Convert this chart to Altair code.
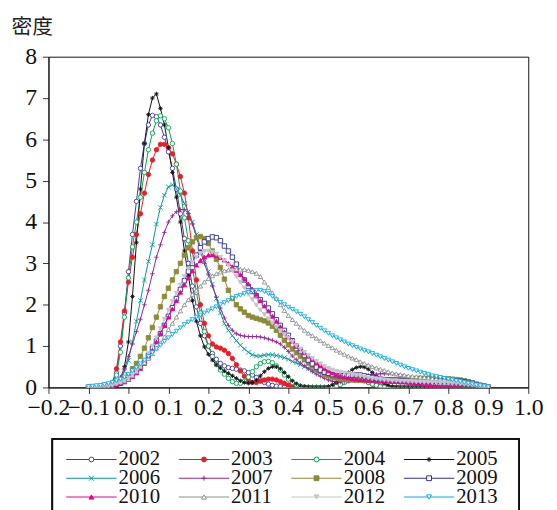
import altair as alt
import pandas as pd

# x grid of every curve: -0.10 .. 0.90, step 0.01 (101 points)
X_START = -0.10
X_STEP = 0.01

years = ["2002", "2003", "2004", "2005", "2006", "2007",
         "2008", "2009", "2010", "2011", "2012", "2013"]

d2002 = [0, 0, 0, 0, 0, 0.02, 0.1, 0.35, 1.0, 1.8,
         2.8, 3.7, 4.5, 5.3, 5.9, 6.35, 6.58, 6.55, 6.35, 6.05,
         5.7, 5.3, 4.8, 4.2, 3.6, 3.0, 2.45, 1.95, 1.55, 1.25,
         1.0, 0.82, 0.68, 0.58, 0.52, 0.48, 0.46, 0.44, 0.42, 0.4,
         0.36, 0.3, 0.24, 0.18, 0.12, 0.08, 0.05, 0.03, 0.02, 0.01,
         0, 0, 0, 0, 0, 0, 0, 0, 0, 0,
         0, 0.03, 0.08, 0.14, 0.2, 0.25, 0.28, 0.29, 0.28, 0.25,
         0.2, 0.14, 0.08, 0.04, 0.02, 0.01, 0, 0, 0, 0,
         0, 0, 0, 0, 0, 0, 0, 0, 0, 0,
         0, 0, 0, 0, 0, 0, 0, 0, 0, 0,
         0]
d2003 = [0, 0, 0, 0, 0, 0.03, 0.12, 0.45, 1.1, 1.85,
         2.55, 3.15, 3.7, 4.2, 4.7, 5.15, 5.5, 5.75, 5.88, 5.88,
         5.8, 5.65, 5.4, 5.1, 4.7, 4.1, 3.3, 2.6, 2.0, 1.55,
         1.25, 1.05, 0.98, 0.95, 0.9, 0.82, 0.7, 0.55, 0.4, 0.27,
         0.17, 0.12, 0.12, 0.15, 0.18, 0.2, 0.2, 0.18, 0.14, 0.1,
         0.06, 0.03, 0.01, 0, 0, 0, 0, 0, 0, 0,
         0, 0.02, 0.05, 0.09, 0.13, 0.17, 0.2, 0.21, 0.2, 0.17,
         0.13, 0.08, 0.04, 0.02, 0, 0, 0, 0, 0, 0,
         0, 0, 0, 0, 0, 0, 0, 0, 0, 0,
         0, 0, 0, 0, 0, 0, 0, 0, 0, 0,
         0]
d2004 = [0, 0, 0, 0, 0, 0.02, 0.08, 0.3, 0.85, 1.7,
         2.65, 3.4, 4.0, 4.6, 5.2, 5.75, 6.15, 6.45, 6.57, 6.5,
         6.28, 5.9, 5.4, 4.75, 4.1, 3.55, 2.9, 2.3, 1.8, 1.35,
         1.0, 0.75, 0.55, 0.42, 0.32, 0.22, 0.14, 0.1, 0.1, 0.15,
         0.25, 0.38, 0.5, 0.58, 0.62, 0.63, 0.6, 0.52, 0.42, 0.3,
         0.2, 0.12, 0.06, 0.03, 0.01, 0, 0, 0, 0, 0,
         0, 0, 0.03, 0.07, 0.12, 0.16, 0.19, 0.2, 0.19, 0.16,
         0.12, 0.08, 0.05, 0.02, 0.01, 0, 0, 0, 0, 0,
         0, 0, 0, 0, 0, 0, 0, 0, 0, 0,
         0, 0, 0, 0, 0, 0, 0, 0, 0, 0,
         0]
d2005 = [0, 0, 0, 0, 0, 0, 0, 0.03, 0.15, 0.5,
         1.1, 2.2, 3.5, 4.8, 5.9, 6.6, 7.0, 7.1, 6.75, 6.35,
         5.8, 5.2, 4.6, 4.0, 3.3, 2.7, 2.1, 1.6, 1.25, 0.98,
         0.8, 0.66, 0.55, 0.47, 0.4, 0.34, 0.28, 0.22, 0.16, 0.12,
         0.1, 0.12, 0.18, 0.28, 0.38, 0.46, 0.5, 0.5, 0.45, 0.36,
         0.26, 0.16, 0.09, 0.04, 0.02, 0.01, 0, 0, 0, 0,
         0.02, 0.06, 0.12, 0.2, 0.28, 0.36, 0.43, 0.48, 0.5, 0.49,
         0.44, 0.36, 0.26, 0.17, 0.1, 0.05, 0.02, 0.01, 0, 0,
         0, 0, 0, 0, 0, 0, 0, 0, 0, 0,
         0, 0, 0, 0, 0, 0, 0, 0, 0, 0,
         0]
d2006 = [0, 0, 0, 0, 0, 0.01, 0.03, 0.08, 0.18, 0.38,
         0.65, 1.1, 1.6, 2.1, 2.6, 3.05, 3.45, 3.95, 4.35, 4.65,
         4.85, 4.9, 4.8, 4.65, 4.45, 4.25, 4.0, 3.7, 3.4, 3.1,
         2.8, 2.5, 2.15, 1.8, 1.55, 1.38, 1.25, 1.13, 1.02, 0.93,
         0.85, 0.79, 0.76, 0.76, 0.78, 0.79, 0.79, 0.77, 0.75, 0.72,
         0.68, 0.63, 0.59, 0.55, 0.5, 0.46, 0.42, 0.39, 0.36, 0.33,
         0.3, 0.27, 0.25, 0.23, 0.22, 0.21, 0.2, 0.2, 0.19, 0.19,
         0.19, 0.19, 0.19, 0.19, 0.19, 0.19, 0.18, 0.17, 0.16, 0.15,
         0.14, 0.13, 0.12, 0.1, 0.09, 0.08, 0.06, 0.05, 0.04, 0.03,
         0.02, 0.02, 0.01, 0.01, 0, 0, 0, 0, 0, 0,
         0]
d2007 = [0, 0, 0, 0, 0, 0.02, 0.05, 0.12, 0.25, 0.45,
         0.75, 1.05, 1.35, 1.65, 2.0, 2.35, 2.75, 3.15, 3.45, 3.75,
         4.0, 4.15, 4.25, 4.3, 4.3, 4.2, 3.95, 3.65, 3.3, 3.0,
         2.72, 2.45, 2.18, 1.92, 1.68, 1.5, 1.38, 1.3, 1.26, 1.24,
         1.23, 1.23, 1.23, 1.22, 1.2, 1.17, 1.14, 1.1, 1.05, 0.97,
         0.87, 0.76, 0.67, 0.59, 0.52, 0.45, 0.38, 0.32, 0.27, 0.22,
         0.18, 0.15, 0.13, 0.13, 0.14, 0.16, 0.18, 0.21, 0.24, 0.27,
         0.29, 0.31, 0.32, 0.33, 0.33, 0.33, 0.33, 0.32, 0.3, 0.28,
         0.26, 0.24, 0.22, 0.2, 0.18, 0.16, 0.14, 0.12, 0.11, 0.1,
         0.09, 0.08, 0.07, 0.06, 0.05, 0.04, 0.03, 0.02, 0.01, 0.01,
         0]
d2008 = [0, 0, 0, 0.01, 0.02, 0.04, 0.07, 0.1, 0.15, 0.2,
         0.3, 0.45, 0.58, 0.75, 0.95, 1.2, 1.45, 1.7, 1.95, 2.2,
         2.4, 2.6, 2.8, 3.0, 3.2, 3.38, 3.52, 3.62, 3.65, 3.6,
         3.48, 3.3, 3.1, 2.9, 2.62, 2.35, 2.15, 2.0, 1.9, 1.82,
         1.74, 1.7, 1.67, 1.64, 1.61, 1.56, 1.48, 1.38, 1.26, 1.14,
         1.03, 0.93, 0.84, 0.75, 0.67, 0.59, 0.52, 0.45, 0.38, 0.32,
         0.28, 0.25, 0.23, 0.21, 0.2, 0.19, 0.18, 0.17, 0.17, 0.17,
         0.17, 0.17, 0.17, 0.17, 0.18, 0.18, 0.19, 0.19, 0.2, 0.2,
         0.21, 0.21, 0.22, 0.22, 0.22, 0.22, 0.22, 0.22, 0.22, 0.21,
         0.21, 0.2, 0.19, 0.18, 0.16, 0.14, 0.11, 0.08, 0.05, 0.03,
         0.01]
d2009 = [0, 0, 0, 0, 0.01, 0.02, 0.04, 0.07, 0.1, 0.14,
         0.2, 0.27, 0.36, 0.48, 0.62, 0.78, 0.95, 1.12, 1.3, 1.5,
         1.72, 1.93, 2.15, 2.37, 2.58, 2.8, 3.0, 3.2, 3.38, 3.52,
         3.6, 3.64, 3.62, 3.55, 3.42, 3.3, 3.15, 2.98, 2.78, 2.6,
         2.44, 2.32, 2.22, 2.12, 2.03, 1.92, 1.78, 1.64, 1.5, 1.38,
         1.26, 1.13, 1.0, 0.88, 0.77, 0.66, 0.57, 0.49, 0.42, 0.37,
         0.34, 0.31, 0.29, 0.28, 0.28, 0.29, 0.3, 0.3, 0.3, 0.28,
         0.26, 0.24, 0.22, 0.2, 0.19, 0.18, 0.17, 0.17, 0.16, 0.16,
         0.15, 0.15, 0.15, 0.15, 0.15, 0.15, 0.15, 0.15, 0.16, 0.16,
         0.16, 0.16, 0.16, 0.15, 0.14, 0.12, 0.1, 0.07, 0.05, 0.03,
         0.01]
d2010 = [0, 0, 0, 0, 0.01, 0.02, 0.04, 0.07, 0.1, 0.15,
         0.2, 0.27, 0.36, 0.46, 0.58, 0.72, 0.9, 1.1, 1.3, 1.5,
         1.7, 1.9, 2.1, 2.3, 2.48, 2.65, 2.82, 2.96, 3.07, 3.15,
         3.2, 3.21, 3.19, 3.14, 3.08, 3.0, 2.92, 2.83, 2.73, 2.62,
         2.5, 2.38, 2.25, 2.1, 1.97, 1.85, 1.72, 1.6, 1.47, 1.34,
         1.22, 1.12, 1.02, 0.93, 0.84, 0.76, 0.68, 0.6, 0.53, 0.46,
         0.4, 0.35, 0.31, 0.28, 0.25, 0.23, 0.21, 0.2, 0.19, 0.18,
         0.17, 0.17, 0.16, 0.16, 0.15, 0.15, 0.14, 0.14, 0.13, 0.13,
         0.12, 0.11, 0.1, 0.09, 0.08, 0.07, 0.06, 0.05, 0.05, 0.04,
         0.04, 0.03, 0.03, 0.02, 0.02, 0.01, 0.01, 0.01, 0, 0,
         0]
d2011 = [0.02, 0.03, 0.04, 0.05, 0.06, 0.07, 0.09, 0.11, 0.13, 0.16,
         0.2, 0.28, 0.38, 0.5, 0.6, 0.7, 0.82, 0.95, 1.08, 1.22,
         1.4, 1.55, 1.7, 1.85, 2.0, 2.12, 2.25, 2.35, 2.45, 2.55,
         2.63, 2.7, 2.75, 2.79, 2.82, 2.84, 2.85, 2.86, 2.86, 2.85,
         2.83, 2.8, 2.76, 2.68, 2.55, 2.42, 2.28, 2.15, 2.0, 1.86,
         1.74, 1.64, 1.55, 1.46, 1.38, 1.31, 1.25, 1.19, 1.13, 1.07,
         1.01, 0.96, 0.9, 0.85, 0.8, 0.76, 0.71, 0.67, 0.62, 0.58,
         0.54, 0.5, 0.47, 0.44, 0.41, 0.38, 0.35, 0.33, 0.31, 0.3,
         0.28, 0.27, 0.26, 0.25, 0.24, 0.23, 0.22, 0.21, 0.2, 0.19,
         0.18, 0.17, 0.16, 0.14, 0.12, 0.1, 0.08, 0.06, 0.04, 0.02,
         0.01]
d2012 = [0, 0, 0, 0.01, 0.02, 0.03, 0.05, 0.08, 0.12, 0.17,
         0.23, 0.3, 0.4, 0.52, 0.66, 0.82, 1.0, 1.2, 1.42, 1.65,
         1.87, 2.08, 2.28, 2.48, 2.68, 2.86, 3.02, 3.15, 3.24, 3.29,
         3.3, 3.27, 3.22, 3.15, 3.06, 2.95, 2.82, 2.68, 2.54, 2.4,
         2.25, 2.12, 1.99, 1.87, 1.76, 1.66, 1.56, 1.46, 1.37, 1.28,
         1.19, 1.1, 1.01, 0.93, 0.85, 0.77, 0.7, 0.63, 0.57, 0.51,
         0.46, 0.42, 0.39, 0.37, 0.35, 0.33, 0.31, 0.29, 0.27, 0.25,
         0.23, 0.21, 0.2, 0.19, 0.18, 0.17, 0.16, 0.16, 0.15, 0.15,
         0.14, 0.14, 0.13, 0.13, 0.12, 0.12, 0.11, 0.11, 0.1, 0.1,
         0.1, 0.09, 0.09, 0.08, 0.07, 0.06, 0.05, 0.04, 0.03, 0.02,
         0.01]
d2013 = [0.02, 0.03, 0.04, 0.05, 0.07, 0.09, 0.12, 0.16, 0.2, 0.25,
         0.32, 0.4, 0.48, 0.57, 0.66, 0.75, 0.84, 0.93, 1.02, 1.11,
         1.2, 1.28, 1.36, 1.44, 1.52, 1.58, 1.64, 1.7, 1.75, 1.8,
         1.85, 1.9, 1.95, 2.0, 2.05, 2.1, 2.15, 2.2, 2.23, 2.27,
         2.3, 2.33, 2.35, 2.35, 2.32, 2.27, 2.2, 2.12, 2.06, 2.0,
         1.94, 1.89, 1.83, 1.77, 1.71, 1.64, 1.57, 1.5, 1.43, 1.37,
         1.31, 1.25, 1.2, 1.15, 1.1, 1.05, 1.01, 0.97, 0.93, 0.89,
         0.86, 0.82, 0.78, 0.74, 0.7, 0.66, 0.62, 0.58, 0.54, 0.5,
         0.46, 0.43, 0.4, 0.37, 0.34, 0.31, 0.28, 0.26, 0.24, 0.22,
         0.2, 0.18, 0.16, 0.14, 0.12, 0.1, 0.08, 0.06, 0.04, 0.03,
         0.01]

x_ticks = [-0.2, -0.1, 0.0, 0.1, 0.2, 0.3, 0.4, 0.5, 0.6, 0.7, 0.8, 0.9, 1.0]
y_ticks = [0, 1, 2, 3, 4, 5, 6, 7, 8]

colors = ["#3b3f9c", "#ed1c24", "#00a651", "#111111", "#00999a", "#92278f",
          "#8c8c36", "#2e3192", "#ec008c", "#8e9093", "#c4c6cc", "#00aeef"]
fills = ["white", "#ed1c24", "white", "#111111", "white", "#92278f",
         "#8c8c36", "white", "#ec008c", "white", "#c4c6cc", "white"]
ASTER = "M-1,0L1,0M0,-1L0,1M-0.7,-0.7L0.7,0.7M-0.7,0.7L0.7,-0.7"
XMARK = "M-1,-1L1,1M-1,1L1,-1"
PLUS = "M-1,0L1,0M0,-1L0,1"
shapes = ["circle", "circle", "circle", ASTER, XMARK, PLUS,
          "square", "square", "triangle-up", "triangle-up",
          "triangle-down", "triangle-down"]

series = [d2002, d2003, d2004, d2005, d2006, d2007,
          d2008, d2009, d2010, d2011, d2012, d2013]
rows = []
for k, (yr, vals) in enumerate(zip(years, series)):
    for i, v in enumerate(vals):
        rows.append({"year": yr, "k": k, "x": round(X_START + i * X_STEP, 2), "density": v})
df = pd.DataFrame(rows)

SERIF = "Liberation Serif"
color_sc = alt.Scale(domain=years, range=colors)
fill_sc = alt.Scale(domain=years, range=fills)
shape_sc = alt.Scale(domain=years, range=shapes)

W, H = 486, 335
xenc = alt.X("x:Q", scale=alt.Scale(domain=[-0.2, 1.0], nice=False, zero=False),
             axis=alt.Axis(values=x_ticks, format=".1f", title=None, labelPadding=2,
                           labelFlush=False, labelOverlap=False,
                           labelFont=SERIF, labelFontSize=24, labelColor="#111"))
yenc = alt.Y("density:Q", scale=alt.Scale(domain=[0, 8], nice=False),
             axis=alt.Axis(values=y_ticks, format="d", title="密度", titleAngle=0,
                           titleX=-38, titleY=-40, titleAlign="left", titleBaseline="top",
                           titleFont="Noto Sans CJK SC", titleFontSize=21,
                           titleFontWeight="normal", titleColor="#222", labelPadding=6,
                           labelOverlap=False,
                           labelFont=SERIF, labelFontSize=24, labelColor="#111"))

lines = alt.Chart(df).mark_line(strokeWidth=1, clip=True).encode(
    x=xenc, y=yenc,
    color=alt.Color("year:N", scale=color_sc, legend=None),
    detail="year:N", order="x:Q")
points = alt.Chart(df).mark_point(filled=True, size=20, strokeWidth=0.9, opacity=1, clip=True).encode(
    x="x:Q", y="density:Q",
    shape=alt.Shape("year:N", scale=shape_sc, legend=None),
    fill=alt.Fill("year:N", scale=fill_sc, legend=None),
    stroke=alt.Stroke("year:N", scale=color_sc, legend=None),
    order="k:Q")
main = alt.layer(lines, points).properties(
    width=W, height=H, view=alt.ViewBackground(stroke="#111", strokeWidth=1))

# legend panel (legend entries derived from the year list)
LW, LH = 477, 80
leg = pd.DataFrame({"year": years})
leg["col"] = [i % 4 for i in range(len(years))]
leg["row"] = [i // 4 for i in range(len(years))]
leg["lx0"] = 18 + 114 * leg["col"]
leg["lx1"] = leg["lx0"] + 51
leg["lxm"] = leg["lx0"] + 25.5
leg["lxt"] = leg["lx0"] + 53
leg["ly"] = 21 + 19 * leg["row"]

lxs = alt.Scale(domain=[0, LW], nice=False, zero=False)
lys = alt.Scale(domain=[0, LH], nice=False, zero=False, reverse=True)
base = alt.Chart(leg)
box = base.mark_rect(fillOpacity=0, stroke="#111", strokeWidth=1.2).encode(
    x=alt.value(4), x2=alt.value(LW), y=alt.value(0), y2=alt.value(LH))
lrule = base.mark_rule(strokeWidth=1.2).encode(
    x=alt.X("lx0:Q", scale=lxs, axis=None), x2="lx1:Q",
    y=alt.Y("ly:Q", scale=lys, axis=None),
    color=alt.Color("year:N", scale=color_sc, legend=None))
lpt = base.mark_point(filled=True, size=24, strokeWidth=1, opacity=1).encode(
    x=alt.X("lxm:Q", scale=lxs, axis=None), y=alt.Y("ly:Q", scale=lys, axis=None),
    shape=alt.Shape("year:N", scale=shape_sc, legend=None),
    fill=alt.Fill("year:N", scale=fill_sc, legend=None),
    stroke=alt.Stroke("year:N", scale=color_sc, legend=None))
ltxt = base.mark_text(align="left", baseline="middle", font=SERIF, fontSize=21, color="#111").encode(
    x=alt.X("lxt:Q", scale=lxs, axis=None), y=alt.Y("ly:Q", scale=lys, axis=None),
    text="year:N")
legend_panel = alt.layer(box, lrule, lpt, ltxt).properties(
    width=LW, height=LH, view=alt.ViewBackground(strokeOpacity=0))

chart = alt.vconcat(main, legend_panel, spacing=18).properties(
    padding={"left": 2, "top": 5, "right": 5, "bottom": 0}
).configure_axis(
    grid=False, domainColor="#111", domainWidth=1, tickColor="#333", tickSize=6
).configure_view(stroke="#111")

chart.save("out.html", embed_options={"renderer": "svg", "actions": False})
